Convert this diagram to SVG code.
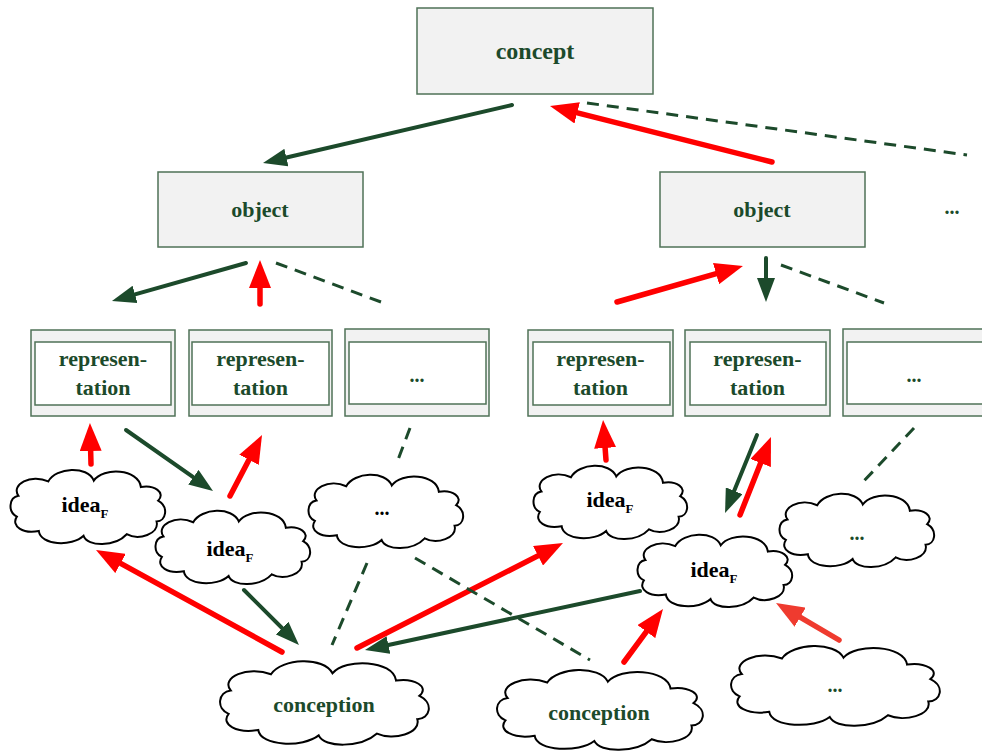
<svg xmlns="http://www.w3.org/2000/svg" xmlns:xlink="http://www.w3.org/1999/xlink" width="982" height="753" viewBox="0 0 982 753">
<style>
.box{fill:#f2f2f2;stroke:#4f7257;stroke-width:1.5}
.inner{fill:#ffffff;stroke:#4f7257;stroke-width:1.5}
.lbl{font-family:"Liberation Serif","Times New Roman",serif;font-weight:bold;font-size:22px;fill:#1c4a2b;text-anchor:middle}
.blk{fill:#000000}
.cl{fill:#ffffff;stroke:#000000;stroke-width:2}
.g{stroke:#1c4a2b;stroke-width:4;fill:none;stroke-linecap:round;marker-end:url(#mg)}
.r{stroke:#ff0000;stroke-width:5.5;fill:none;stroke-linecap:round;marker-end:url(#mr)}
.r2{stroke:#ef3b2f;stroke-width:5.5;fill:none;stroke-linecap:round;marker-end:url(#mr2)}
.d{stroke:#1c4a2b;stroke-width:3;fill:none;stroke-dasharray:12 8}
</style>
<defs>
<marker id="mg" markerUnits="userSpaceOnUse" markerWidth="24" markerHeight="18" refX="12" refY="9" orient="auto"><path d="M0,0 L24,9 L0,18 Z" fill="#1c4a2b"/></marker>
<marker id="mr" markerUnits="userSpaceOnUse" markerWidth="28" markerHeight="22" refX="14" refY="11" orient="auto"><path d="M0,0 L28,11 L0,22 Z" fill="#ff0000"/></marker>
<marker id="mr2" markerUnits="userSpaceOnUse" markerWidth="28" markerHeight="22" refX="14" refY="11" orient="auto"><path d="M0,0 L28,11 L0,22 Z" fill="#ef3b2f"/></marker>
<path id="cloud" class="cl" vector-effect="non-scaling-stroke" d="M12,36 C2,22 28,8 50,18 C60,0 100,-2 108,17 C120,0 165,2 168,25 C185,22 200,32 190,42 C204,50 200,68 188,68 C192,84 165,92 150,84 C135,100 100,100 95,86 C80,100 40,98 38,80 C18,84 2,74 10,62 C-2,56 0,38 12,36 Z"/>
</defs>

<g id="connectors">
<line class="g" x1="512" y1="105" x2="274.7" y2="160.3"/>
<line class="g" x1="246" y1="263" x2="123.5" y2="297.7"/>
<line class="g" x1="766" y1="258" x2="766" y2="290"/>
<line class="g" x1="126" y1="430" x2="203.2" y2="484.1"/>
<line class="g" x1="757" y1="435" x2="729.6" y2="501.9"/>
<line class="g" x1="244" y1="590" x2="290.5" y2="636.5"/>
<line class="g" x1="640" y1="591" x2="376.7" y2="647.5"/>
<line class="r" x1="772" y1="162" x2="563.6" y2="109.4"/>
<line class="r" x1="260" y1="304" x2="260" y2="274"/>
<line class="r" x1="617" y1="302" x2="729.5" y2="269.8"/>
<line class="r" x1="91" y1="464" x2="90.3" y2="437"/>
<line class="r" x1="230" y1="496" x2="255.5" y2="447.4"/>
<line class="r" x1="606" y1="460" x2="604.1" y2="434"/>
<line class="r" x1="740" y1="515" x2="765.8" y2="450"/>
<line class="r" x1="282" y1="652" x2="108.3" y2="556.7"/>
<line class="r" x1="357" y1="648" x2="550.5" y2="549.4"/>
<line class="r" x1="624" y1="662" x2="654.7" y2="620.3"/>
<line class="r2" x1="839" y1="640" x2="788.1" y2="610.1"/>
<line class="d" x1="587" y1="103" x2="967" y2="155"/>
<line class="d" x1="276" y1="263" x2="381" y2="302"/>
<line class="d" x1="781" y1="265" x2="884" y2="303"/>
<line class="d" x1="410" y1="428" x2="396" y2="465"/>
<line class="d" x1="914" y1="428" x2="863" y2="482"/>
<line class="d" x1="367" y1="563" x2="332" y2="645"/>
<line class="d" x1="415" y1="558" x2="590" y2="660"/>
</g>

<g id="concept">
<rect class="box" x="417" y="8" width="236" height="86"/>
<text class="lbl" x="535" y="59" style="font-size:24px">concept</text>
</g>
<g id="object1">
<rect class="box" x="158" y="172" width="205" height="75"/>
<text class="lbl" x="260" y="217">object</text>
</g>
<g id="object2">
<rect class="box" x="660" y="172" width="205" height="75"/>
<text class="lbl" x="762" y="217">object</text>
</g>
<g id="object-more">
<text class="lbl" x="952" y="214" style="font-size:20px">...</text>
</g>

<g id="rep1">
<rect class="box" x="31" y="330" width="144" height="86"/>
<rect class="inner" x="35" y="342" width="136" height="63"/>
<text class="lbl" x="103" y="366">represen-</text>
<text class="lbl" x="103" y="395">tation</text>
</g>
<g id="rep2">
<rect class="box" x="189" y="330" width="143" height="86"/>
<rect class="inner" x="192" y="342" width="137" height="63"/>
<text class="lbl" x="260.5" y="366">represen-</text>
<text class="lbl" x="260.5" y="395">tation</text>
</g>
<g id="rep3">
<rect class="box" x="345" y="329" width="144" height="87"/>
<rect class="inner" x="349" y="342" width="137" height="62"/>
<text class="lbl" x="417" y="382" style="font-size:20px">...</text>
</g>
<g id="rep4">
<rect class="box" x="528" y="330" width="145" height="86"/>
<rect class="inner" x="533" y="342" width="137" height="63"/>
<text class="lbl" x="600.5" y="366">represen-</text>
<text class="lbl" x="600.5" y="395">tation</text>
</g>
<g id="rep5">
<rect class="box" x="685" y="330" width="145" height="86"/>
<rect class="inner" x="690" y="342" width="136" height="63"/>
<text class="lbl" x="757.5" y="366">represen-</text>
<text class="lbl" x="757.5" y="395">tation</text>
</g>
<g id="rep6">
<rect class="box" x="843" y="329" width="145" height="87"/>
<rect class="inner" x="847" y="342" width="137" height="62"/>
<text class="lbl" x="914" y="382" style="font-size:20px">...</text>
</g>

<g id="idea1">
<use xlink:href="#cloud" href="#cloud" transform="translate(9,467) scale(0.785,0.8)"/>
<text class="lbl blk" x="85" y="512">idea<tspan font-size="13" dy="6">F</tspan></text>
</g>
<g id="idea2">
<use xlink:href="#cloud" href="#cloud" transform="translate(154,508) scale(0.785,0.79)"/>
<text class="lbl blk" x="230" y="556">idea<tspan font-size="13" dy="6">F</tspan></text>
</g>
<g id="idea-more1">
<use xlink:href="#cloud" href="#cloud" transform="translate(307,472) scale(0.785,0.79)"/>
<text class="lbl blk" x="382" y="515" style="font-size:20px">...</text>
</g>
<g id="idea3">
<use xlink:href="#cloud" href="#cloud" transform="translate(532,463) scale(0.78,0.79)"/>
<text class="lbl blk" x="610" y="507">idea<tspan font-size="13" dy="6">F</tspan></text>
</g>
<g id="idea4">
<use xlink:href="#cloud" href="#cloud" transform="translate(636,532) scale(0.785,0.78)"/>
<text class="lbl blk" x="714" y="577">idea<tspan font-size="13" dy="6">F</tspan></text>
</g>
<g id="idea-more2">
<use xlink:href="#cloud" href="#cloud" transform="translate(778,491) scale(0.785,0.79)"/>
<text class="lbl" x="857" y="540" style="font-size:20px">...</text>
</g>

<g id="conception1">
<use xlink:href="#cloud" href="#cloud" transform="translate(218,658) scale(1.06,0.9)"/>
<text class="lbl" x="324" y="712">conception</text>
</g>
<g id="conception2">
<use xlink:href="#cloud" href="#cloud" transform="translate(495,667) scale(1.045,0.86)"/>
<text class="lbl" x="599" y="720">conception</text>
</g>
<g id="conception-more">
<use xlink:href="#cloud" href="#cloud" transform="translate(729,643) scale(1.06,0.86)"/>
<text class="lbl" x="835" y="692" style="font-size:20px">...</text>
</g>
</svg>
